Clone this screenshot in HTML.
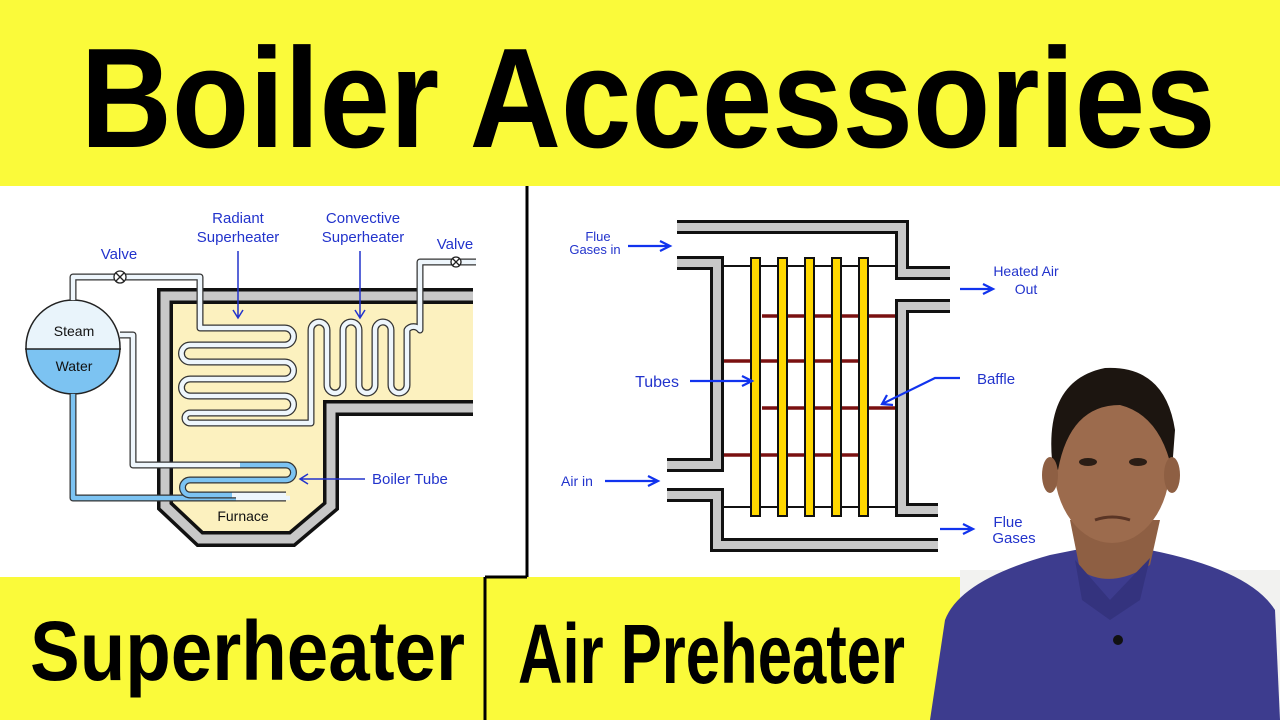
<!DOCTYPE html>
<html><head><meta charset="utf-8"><style>html,body{margin:0;padding:0;background:#fff}svg{display:block}</style></head>
<body>
<svg width="1280" height="720" viewBox="0 0 1280 720" xmlns="http://www.w3.org/2000/svg" font-family="Liberation Sans, sans-serif">
<rect width="1280" height="720" fill="#fff"/>
<rect x="0" y="0" width="1280" height="186" fill="#fafa3a"/>
<text x="648" y="147" font-size="142" font-weight="bold" text-anchor="middle" textLength="1135" lengthAdjust="spacingAndGlyphs">Boiler Accessories</text>
<rect x="0" y="577" width="1280" height="143" fill="#fafa3a"/>
<rect x="960" y="570" width="320" height="150" fill="#f2f2f0"/>
<line x1="527" y1="186" x2="527" y2="577" stroke="#000" stroke-width="3"/>
<line x1="485" y1="577" x2="527" y2="577" stroke="#000" stroke-width="3"/>
<line x1="485" y1="577" x2="485" y2="720" stroke="#000" stroke-width="3"/>
<text x="30" y="680" font-size="84" font-weight="bold" textLength="435" lengthAdjust="spacingAndGlyphs">Superheater</text>
<text x="518" y="683" font-size="84" font-weight="bold" textLength="387" lengthAdjust="spacingAndGlyphs">Air Preheater</text>

<polygon points="171,302 473,302 473,402 325,402 325,503 287,533 203,533 171,503" fill="#fcf1bf"/>
<path d="M473,296 L165,296 L165,506 L200,539 L292,539 L331,506 L331,408 L473,408" fill="none" stroke="#111" stroke-width="16"/>
<path d="M473,296 L165,296 L165,506 L200,539 L292,539 L331,506 L331,408 L473,408" fill="none" stroke="#c8c8c8" stroke-width="9"/>
<clipPath id="dc"><circle cx="73" cy="347" r="47"/></clipPath>
<rect x="20" y="290" width="110" height="60" fill="#e9f4fb" clip-path="url(#dc)"/>
<rect x="20" y="349" width="110" height="60" fill="#7cc3f2" clip-path="url(#dc)"/>
<line x1="25" y1="349" x2="121" y2="349" stroke="#222" stroke-width="1.5"/>
<circle cx="73" cy="347" r="47" fill="none" stroke="#222" stroke-width="1.5"/>
<text x="74" y="336" font-size="14" text-anchor="middle" fill="#111">Steam</text>
<text x="74" y="371" font-size="14" text-anchor="middle" fill="#111">Water</text>
<g fill="none" stroke-linejoin="round">
<path d="M73,394 L73,498 L236,498" stroke="#333" stroke-width="7"/>
<path d="M73,394 L73,498 L236,498" stroke="#7cc3f2" stroke-width="4.5"/>
<g stroke="#333" stroke-width="7"><path d="M120,335 L133,335 L133,465 L286,465 A7.5,7.5 0 0 1 286,480 L190,480 A7.5,7.5 0 0 0 190,495 L286,495"/><path d="M236,498 L286,498"/></g>
<g stroke="#eef6fc" stroke-width="4.5"><path d="M120,335 L133,335 L133,465 L240,465"/><path d="M236,498 L290,498"/></g>
<g stroke="#7cc3f2" stroke-width="4.5"><path d="M240,465 L286,465 A7.5,7.5 0 0 1 286,480 L190,480 A7.5,7.5 0 0 0 190,495 L232,495"/></g>
<path d="M232,495 L286,495" stroke="#eef6fc" stroke-width="4.5"/>
<path d="M73,300 L73,277 L200,277 L200,328 L285,328 A8.5,8.5 0 0 1 285,345 L190,345 A8.5,8.5 0 0 0 190,362 L285,362 A8.5,8.5 0 0 1 285,379 L190,379 A8.5,8.5 0 0 0 190,396 L285,396 A8.5,8.5 0 0 1 285,413 L190,413 A5,5 0 0 0 190,423 L311,423 L311,330 A8,8 0 0 1 327,330 L327,385 A8,8 0 0 0 343,385 L343,330 A8,8 0 0 1 359,330 L359,385 A8,8 0 0 0 375,385 L375,330 A8,8 0 0 1 391,330 L391,385 A8,8 0 0 0 407,385 L407,330 A8,8 0 0 1 420,330 L420,262 L476,262" stroke="#333" stroke-width="7"/>
<path d="M73,300 L73,277 L200,277 L200,328 L285,328 A8.5,8.5 0 0 1 285,345 L190,345 A8.5,8.5 0 0 0 190,362 L285,362 A8.5,8.5 0 0 1 285,379 L190,379 A8.5,8.5 0 0 0 190,396 L285,396 A8.5,8.5 0 0 1 285,413 L190,413 A5,5 0 0 0 190,423 L311,423 L311,330 A8,8 0 0 1 327,330 L327,385 A8,8 0 0 0 343,385 L343,330 A8,8 0 0 1 359,330 L359,385 A8,8 0 0 0 375,385 L375,330 A8,8 0 0 1 391,330 L391,385 A8,8 0 0 0 407,385 L407,330 A8,8 0 0 1 420,330 L420,262 L476,262" stroke="#eef6fc" stroke-width="4.5"/>
</g>
<g stroke="#222" stroke-width="1.3" fill="#fff"><circle cx="120" cy="277" r="6"/><circle cx="456" cy="262" r="5"/></g>
<g stroke="#222" stroke-width="1.3"><path d="M116,273 L124,281 M124,273 L116,281"/><path d="M452.5,258.5 L459.5,265.5 M459.5,258.5 L452.5,265.5"/></g>
<g fill="#2233cc" font-size="15">
<text x="119" y="259" text-anchor="middle">Valve</text>
<text x="238" y="223" text-anchor="middle">Radiant</text>
<text x="238" y="242" text-anchor="middle">Superheater</text>
<text x="363" y="223" text-anchor="middle">Convective</text>
<text x="363" y="242" text-anchor="middle">Superheater</text>
<text x="455" y="249" text-anchor="middle">Valve</text>
<text x="372" y="484">Boiler Tube</text>
</g>
<text x="243" y="521" font-size="14" text-anchor="middle" fill="#111">Furnace</text>
<g stroke="#2233cc" stroke-width="1.5" fill="none">
<path d="M238,251 L238,318 M233,310 L238,318 L243,310"/>
<path d="M360,251 L360,318 M355,310 L360,318 L365,310"/>
<path d="M365,479 L300,479 M308,474 L300,479 L308,484"/>
</g>

<g fill="none" stroke-linejoin="miter">
<g stroke="#111" stroke-width="14">
<path d="M677,227 L902,227 L902,273 L950,273"/>
<path d="M677,263 L717,263 L717,465 L667,465"/>
<path d="M667,495 L717,495 L717,545 L938,545"/>
<path d="M950,306 L902,306 L902,510 L938,510"/>
</g>
<g stroke="#c8c8c8" stroke-width="8">
<path d="M677,227 L902,227 L902,273 L950,273"/>
<path d="M677,263 L717,263 L717,465 L667,465"/>
<path d="M667,495 L717,495 L717,545 L938,545"/>
<path d="M950,306 L902,306 L902,510 L938,510"/>
</g>
</g>
<g stroke="#111" stroke-width="2"><line x1="724" y1="266" x2="895" y2="266"/><line x1="724" y1="507" x2="895" y2="507"/></g>
<g stroke="#7a1010" stroke-width="3.5">
<line x1="762" y1="316" x2="895" y2="316"/>
<line x1="724" y1="361" x2="858" y2="361"/>
<line x1="762" y1="408" x2="895" y2="408"/>
<line x1="724" y1="455" x2="858" y2="455"/>
</g>
<g fill="#ffd800" stroke="#111" stroke-width="2">
<rect x="751" y="258" width="9" height="258"/>
<rect x="778" y="258" width="9" height="258"/>
<rect x="805" y="258" width="9" height="258"/>
<rect x="832" y="258" width="9" height="258"/>
<rect x="859" y="258" width="9" height="258"/>
</g>
<g fill="#2233cc" font-size="13">
<text x="598" y="241" text-anchor="middle">Flue</text>
<text x="595" y="254" text-anchor="middle">Gases in</text>
<text x="1026" y="276" text-anchor="middle" font-size="14">Heated Air</text>
<text x="1026" y="294" text-anchor="middle" font-size="14">Out</text>
<text x="657" y="387" text-anchor="middle" font-size="16">Tubes</text>
<text x="996" y="384" text-anchor="middle" font-size="15">Baffle</text>
<text x="577" y="486" text-anchor="middle" font-size="14">Air in</text>
<text x="1008" y="527" text-anchor="middle" font-size="15">Flue</text>
<text x="1014" y="543" text-anchor="middle" font-size="15">Gases</text>
</g>
<g stroke="#1133ee" stroke-width="2.2" fill="none">
<path d="M628,246 L670,246 M660,241 L670,246 L660,251"/>
<path d="M960,289 L993,289 M983,284 L993,289 L983,294"/>
<path d="M690,381 L752,381 M742,376 L752,381 L742,386"/>
<path d="M960,378 L935,378 L882,404 M887,395 L882,404 L893,405"/>
<path d="M605,481 L658,481 M648,476 L658,481 L648,486"/>
<path d="M940,529 L973,529 M963,524 L973,529 L963,534"/>
</g>

<path d="M930,720 L945,620 Q960,580 1050,555 L1100,545 L1150,550 Q1250,570 1275,610 L1280,720 Z" fill="#3d3c8e"/>
<path d="M1070,520 L1080,570 Q1110,590 1150,565 L1160,520 Z" fill="#8e5f43"/>
<path d="M1075,560 L1110,600 L1150,558 L1140,600 L1110,620 L1082,600 Z" fill="#34337e"/>
<ellipse cx="1112" cy="465" rx="58" ry="78" fill="#9c6b4d"/>
<path d="M1052,460 Q1045,380 1105,368 Q1165,365 1175,430 L1172,470 Q1160,415 1120,405 Q1070,405 1058,470 Z" fill="#1c1510"/>
<ellipse cx="1050" cy="475" rx="8" ry="18" fill="#8e5f43"/>
<ellipse cx="1172" cy="475" rx="8" ry="18" fill="#8e5f43"/>
<ellipse cx="1088" cy="462" rx="9" ry="4" fill="#2a1d15"/>
<ellipse cx="1138" cy="462" rx="9" ry="4" fill="#2a1d15"/>
<path d="M1095,520 Q1112,514 1130,520" stroke="#5a3525" stroke-width="3" fill="none"/>
<circle cx="1118" cy="640" r="5" fill="#111"/>
</svg>
</body></html>
